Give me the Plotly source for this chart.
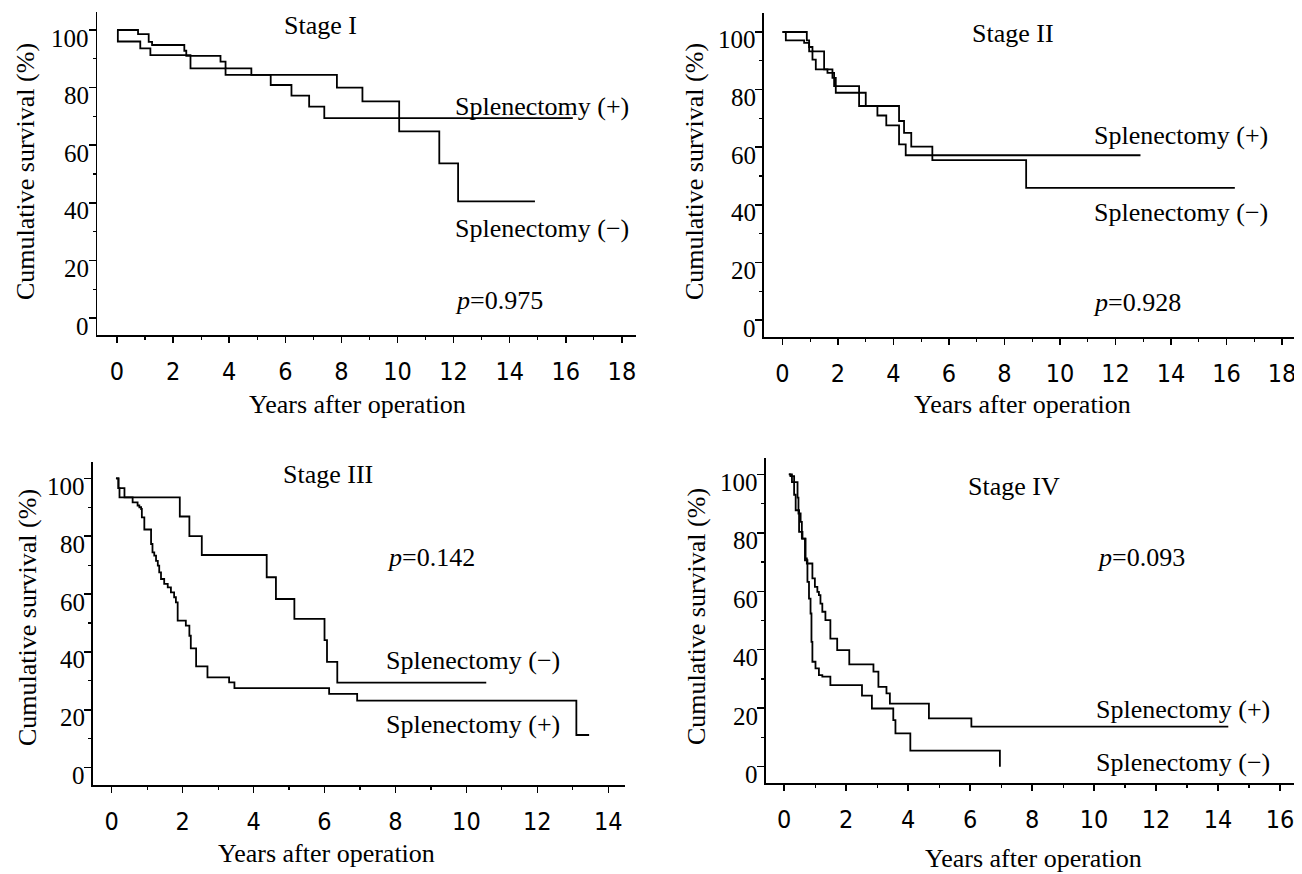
import plotly.graph_objects as go

# The page body has an 8px default margin; the figure is sized/positioned to compensate.
OFF = 8
WF, HF = 1302 - OFF, 874 - OFF

# ---------------- data (years, cumulative survival %) ----------------
# Stage I
st1_plus_t = [0, 0.03, 0.83, 1.19, 2.62, 3.87, 5.48, 6.22, 6.85, 7.39, 16.25]
st1_plus_s = [100, 96.0, 93.6, 91.3, 86.7, 84.4, 80.9, 77.2, 73.4, 69.4, 69.4]
st1_minus_t = [0, 0.75, 1.13, 1.25, 2.40, 2.47, 3.69, 3.87, 4.79, 7.84, 8.75, 10.06, 11.49, 12.16, 14.9]
st1_minus_s = [100, 98.6, 95.9, 94.8, 92.8, 91.0, 89.0, 86.7, 84.4, 80.0, 75.2, 64.8, 53.7, 40.5, 40.5]

# Stage II
st2_plus_t = [0, 0.12, 0.78, 0.96, 1.08, 1.2, 1.8, 1.92, 2.76, 3.42, 3.74, 4.2, 4.44, 12.9]
st2_plus_s = [100, 97.1, 96.2, 93.3, 90.4, 87.0, 84.1, 78.9, 74.3, 71.0, 67.6, 61.0, 57.2, 57.2]
st2_minus_t = [0, 0.876, 0.96, 1.08, 1.5, 1.62, 1.86, 2.76, 3.0, 4.2, 4.38, 4.64, 5.4, 8.78, 16.3]
st2_minus_s = [100, 97.1, 94.8, 93.3, 87.0, 85.8, 81.2, 78.9, 74.3, 69.1, 65.0, 60.2, 55.5, 45.9, 45.9]

# Stage III
st3_plus_t = [0.12, 0.19, 0.36, 0.59, 0.73, 0.78, 0.83, 0.85, 0.92, 1.11, 1.15, 1.20, 1.25, 1.30,
              1.34, 1.39, 1.48, 1.58, 1.67, 1.76, 1.81, 1.86, 2.09, 2.19, 2.23, 2.38, 2.70, 3.31,
              3.46, 6.13, 6.92, 13.1, 13.46]
st3_plus_s = [100, 96.6, 93.4, 91.7, 90.6, 90.0, 89.4, 86.5, 82.3, 77.3, 74.4, 73.3, 71.5, 69.8,
              67.5, 65.2, 63.5, 62.3, 60.6, 58.9, 57.1, 50.8, 49.1, 45.6, 41.2, 35.0, 31.2, 29.5,
              27.5, 25.5, 23.2, 11.3, 11.3]
st3_minus_t = [0.12, 0.19, 0.22, 1.92, 2.19, 2.54, 4.37, 4.63, 5.15, 6.0, 6.07, 6.36, 10.56]
st3_minus_s = [100, 96.6, 93.4, 86.8, 80.0, 73.5, 65.8, 58.3, 51.4, 44.1, 36.6, 29.4, 29.4]

# Stage IV
st4_plus_t = [0.15, 0.2, 0.32, 0.43, 0.46, 0.53, 0.57, 0.69, 0.73, 0.91, 0.99, 1.07, 1.12, 1.17,
              1.23, 1.33, 1.49, 1.71, 2.10, 2.88, 3.04, 3.30, 3.41, 4.67, 6.04, 14.33]
st4_plus_s = [100, 99.4, 97.3, 92.0, 86.6, 83.7, 78.0, 71.2, 69.5, 64.4, 61.5, 59.8, 58.7, 55.8,
              53.0, 50.1, 43.8, 39.9, 35.0, 32.5, 27.3, 25.1, 21.6, 16.5, 13.7, 13.7]
st4_minus_t = [0.15, 0.25, 0.32, 0.37, 0.48, 0.59, 0.67, 0.75, 0.80, 0.85, 0.88, 0.91, 1.01, 1.12,
               1.23, 1.49, 2.51, 2.83, 3.52, 3.59, 4.07, 6.96]
st4_minus_s = [100, 97.3, 93.0, 87.7, 80.3, 78.0, 70.6, 63.2, 57.5, 52.4, 42.7, 35.9, 33.6, 31.3,
               30.8, 27.9, 24.3, 19.9, 15.9, 11.4, 5.5, 0.0]

stage_names = ["Stage I", "Stage II", "Stage III", "Stage IV"]
p_values = ["0.975", "0.928", "0.142", "0.093"]
x_max_ticks = [18, 18, 14, 16]
y_ticks = [0, 20, 40, 60, 80, 100]

series = [
    (st1_plus_t, st1_plus_s, st1_minus_t, st1_minus_s),
    (st2_plus_t, st2_plus_s, st2_minus_t, st2_minus_s),
    (st3_plus_t, st3_plus_s, st3_minus_t, st3_minus_s),
    (st4_plus_t, st4_plus_s, st4_minus_t, st4_minus_s),
]

# ---------------- layout geometry (target-window pixels) ----------------
geom = [
    dict(spine=97.3, axis_y=335, top=12, right=636, x0=117.0, pxyr=28.05, y100=30.0, y0=318.0),
    dict(spine=763.5, axis_y=337, top=13, right=1301, x0=782.5, pxyr=27.75, y100=32.0, y0=320.0),
    dict(spine=92.5, axis_y=785, top=462, right=625, x0=111.7, pxyr=35.47, y100=478.3, y0=767.7),
    dict(spine=766.0, axis_y=783, top=458, right=1298, x0=784.2, pxyr=30.99, y100=474.3, y0=766.7),
]

stage_pos = [(7.27, 101.7), (8.3, 99.6), (6.1, 101.2), (7.41, 95.7)]
plus_pos = [(11.98, 73.3), (11.17, 64.2), (7.67, 14.8), (10.0, 19.4)]
minus_pos = [(11.98, 31.2), (11.17, 37.2), (7.67, 37.2), (10.0, 1.3)]
p_pos = [(11.98, 6.2), (11.12, 6.2), (7.7, 72.8), (10.03, 71.7)]
xtitle_px = [(357, 404), (1022, 405), (326, 853), (1033, 858)]
ytitle_px = [(25, 172), (694, 172), (27, 618), (696, 617)]

SERIF = "Liberation Serif, Times New Roman, serif"
NARROW = "Liberation Sans Narrow, Arial Narrow, DejaVu Sans Condensed, Liberation Sans, sans-serif"
TXT = 26


def px(x):
    return (x - OFF) / WF


def py(y):
    return 1 - (y - OFF) / HF


fig = go.Figure()
annotations = []
layout_axes = {}

for i, g in enumerate(geom):
    n = i + 1
    xa = "x" if n == 1 else f"x{n}"
    ya = "y" if n == 1 else f"y{n}"
    ppct = (g["y0"] - g["y100"]) / 100.0
    xr = [(g["spine"] - g["x0"]) / g["pxyr"], (g["right"] - g["x0"]) / g["pxyr"]]
    yr = [(g["y0"] - g["axis_y"]) / ppct, (g["y0"] - g["top"]) / ppct]

    layout_axes["xaxis" if n == 1 else f"xaxis{n}"] = dict(
        domain=[px(g["spine"]), px(g["right"])], range=xr, anchor=ya,
        showline=True, linecolor="black", linewidth=1.6, showgrid=False, zeroline=False,
        tickvals=list(range(0, x_max_ticks[i] + 1, 2)), ticks="outside", ticklen=6,
        tickwidth=1.5, tickcolor="black", ticklabelstandoff=7, ticklabeloverflow="allow",
        tickfont=dict(family=NARROW, size=25, color="black"),
        minor=dict(dtick=1, tick0=0, ticks="outside", ticklen=3, tickwidth=1.2, tickcolor="black"),
        fixedrange=True,
    )
    layout_axes["yaxis" if n == 1 else f"yaxis{n}"] = dict(
        domain=[py(g["axis_y"]), py(g["top"])], range=yr, anchor=xa,
        showline=True, linecolor="black", linewidth=1.6, showgrid=False, zeroline=False,
        tickvals=y_ticks, ticks="outside", ticklen=7, tickwidth=1.5, tickcolor="black",
        showticklabels=False,
        minor=dict(dtick=10, tick0=0, ticks="outside", ticklen=3, tickwidth=1.2, tickcolor="black"),
        fixedrange=True,
    )

    pt, ps, mt, ms = series[i]
    for tt, ss in ((pt, ps), (mt, ms)):
        fig.add_trace(go.Scatter(
            x=tt, y=ss, mode="lines", xaxis=xa, yaxis=ya, showlegend=False,
            line=dict(color="black", width=1.8, shape="hv"), hoverinfo="skip",
        ))

    # y tick labels (serif, sitting just below their tick marks as in the original)
    for v in y_ticks:
        annotations.append(dict(text=str(v), x=px(g["spine"] - 6), y=v, xref="paper", yref=ya,
                                showarrow=False, xanchor="right", yanchor="middle", yshift=-8,
                                font=dict(family=SERIF, size=25, color="black")))

    f = dict(family=SERIF, size=TXT, color="black")
    annotations.append(dict(text=stage_names[i], x=stage_pos[i][0], y=stage_pos[i][1], xref=xa, yref=ya,
                            showarrow=False, xanchor="center", yanchor="middle", font=f))
    annotations.append(dict(text="Splenectomy (+)", x=plus_pos[i][0], y=plus_pos[i][1], xref=xa, yref=ya,
                            showarrow=False, xanchor="left", yanchor="middle", font=f))
    annotations.append(dict(text="Splenectomy (\u2212)", x=minus_pos[i][0], y=minus_pos[i][1], xref=xa, yref=ya,
                            showarrow=False, xanchor="left", yanchor="middle", font=f))
    annotations.append(dict(text="<i>p</i>=" + p_values[i], x=p_pos[i][0], y=p_pos[i][1], xref=xa, yref=ya,
                            showarrow=False, xanchor="left", yanchor="middle", font=f))
    annotations.append(dict(text="Years after operation", x=px(xtitle_px[i][0]), y=py(xtitle_px[i][1]),
                            xref="paper", yref="paper", showarrow=False, xanchor="center", yanchor="middle", font=f))
    annotations.append(dict(text="Cumulative survival (%)", x=px(ytitle_px[i][0]), y=py(ytitle_px[i][1]),
                            xref="paper", yref="paper", showarrow=False, xanchor="center", yanchor="middle",
                            textangle=-90, font=f))

fig.update_layout(
    width=WF, height=HF, autosize=False,
    margin=dict(l=0, r=0, t=0, b=0),
    paper_bgcolor="white", plot_bgcolor="white",
    annotations=annotations,
    **layout_axes,
)

fig.write_html("out.html", include_plotlyjs=True, default_width=f"{WF}px", default_height=f"{HF}px",
               config=dict(displayModeBar=False, staticPlot=True))
